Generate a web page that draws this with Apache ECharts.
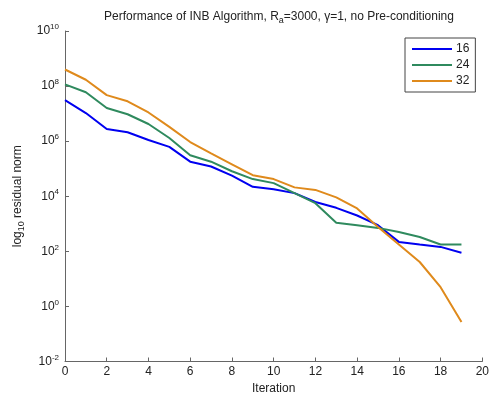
<!DOCTYPE html>
<html>
<head>
<meta charset="utf-8">
<script src="https://cdn.jsdelivr.net/npm/echarts@6/dist/echarts.min.js"></script>
<style>
  html, body { margin: 0; padding: 0; background: #fff; }
  #chart { width: 492px; height: 402px; }
</style>
</head>
<body>
<div id="chart"></div>
<script>
// iterations and residual norms
const iterations = [0, 1, 2, 3, 4, 5, 6, 7, 8, 9, 10, 11, 12, 13, 14, 15, 16, 17, 18, 19];
const res16 = [3.1e7, 1.05e7, 2.75e6, 2.1e6, 1.1e6, 6.2e5, 1.8e5, 1.2e5, 5.6e4, 2.2e4,
               1.8e4, 1.3e4, 6.2e3, 3.8e3, 2.0e3, 890, 220, 178, 145, 89];
const res24 = [1.15e8, 6.0e7, 1.6e7, 9.5e6, 4.2e6, 1.3e6, 3.1e5, 1.8e5, 8.1e4, 4.2e4,
               3.0e4, 1.3e4, 5.6e3, 1.1e3, 890, 710, 500, 330, 178, 178];
const res32 = [4.0e8, 1.7e8, 4.7e7, 2.8e7, 1.1e7, 3.3e6, 9.3e5, 3.6e5, 1.45e5, 5.8e4,
               4.2e4, 2.1e4, 1.7e4, 9.1e3, 3.6e3, 760, 178, 41, 5.0, 0.27];
const seriesNames = ['16', '24', '32'];
const seriesColors = ['#0000f0', '#2f8a5e', '#df8a1c'];

const font = 'Liberation Sans, Arial, sans-serif';
const chart = echarts.init(document.getElementById('chart'), null, { renderer: 'canvas' });

const pair = arr => arr.map((v, i) => [iterations[i], v]);

chart.setOption({
    animation: false,
    backgroundColor: '#fff',
    title: {
        text: '{t|Performance of INB Algorithm, R}{s|a}{t|=3000, γ=1, no Pre-conditioning}',
        left: 274,
        textAlign: 'center',
        top: 4,
        textStyle: {
            fontWeight: 'normal',
            rich: {
                t: { fontFamily: font, fontSize: 12, fontWeight: 'normal', color: '#222', lineHeight: 16 },
                s: { fontFamily: font, fontSize: 9, fontWeight: 'normal', color: '#222', verticalAlign: 'bottom', lineHeight: 12 },
            },
        },
    },
    legend: {
        orient: 'vertical',
        left: 405,
        top: 38,
        icon: 'rect',
        itemWidth: 40,
        itemHeight: 2,
        itemGap: 4,
        padding: [5, 6, 5, 7],
        borderColor: '#444',
        borderWidth: 1,
        textStyle: { fontFamily: font, fontSize: 12, color: '#222', padding: [0, 0, 0, -1] },
        data: seriesNames,
    },
    grid: { left: 65, right: 9, top: 31, bottom: 40.5, containLabel: false },
    xAxis: {
        type: 'value',
        min: 0,
        max: 20,
        interval: 2,
        name: 'Iteration',
        nameLocation: 'middle',
        nameGap: 18,
        nameTextStyle: { fontFamily: font, fontSize: 12, color: '#222' },
        axisLine: { lineStyle: { color: '#666', width: 1 } },
        axisTick: { inside: true, length: 4, lineStyle: { color: '#666' } },
        axisLabel: { fontFamily: font, fontSize: 12, color: '#222', margin: 4 },
        splitLine: { show: false },
    },
    yAxis: {
        type: 'log',
        logBase: 10,
        min: 1e-2,
        max: 1e10,
        interval: 2,
        name: '{a|log}{s|10}{a| residual norm}',
        nameLocation: 'middle',
        nameRotate: 90,
        nameGap: 38,
        nameTextStyle: {
            rich: {
                a: { fontFamily: font, fontSize: 12, color: '#222', lineHeight: 16 },
                s: { fontFamily: font, fontSize: 9, color: '#222', verticalAlign: 'bottom', lineHeight: 12 },
            },
        },
        axisLine: { show: true, lineStyle: { color: '#666', width: 1 } },
        axisTick: { show: true, inside: true, length: 4, lineStyle: { color: '#666' } },
        axisLabel: {
            margin: 6,
            formatter: v => '{b|10}{e|' + Math.round(Math.log10(v)) + '}',
            rich: {
                b: { fontFamily: font, fontSize: 12, color: '#222', lineHeight: 16 },
                e: { fontFamily: font, fontSize: 8, color: '#222', verticalAlign: 'top', lineHeight: 10 },
            },
        },
        splitLine: { show: false },
        minorTick: { show: false },
    },
    series: seriesNames.map((name, k) => ({
        name: name,
        type: 'line',
        data: pair([res16, res24, res32][k]),
        showSymbol: false,
        symbol: 'none',
        lineStyle: { width: 2, color: seriesColors[k] },
        itemStyle: { color: seriesColors[k] },
    })),
});
</script>
</body>
</html>
